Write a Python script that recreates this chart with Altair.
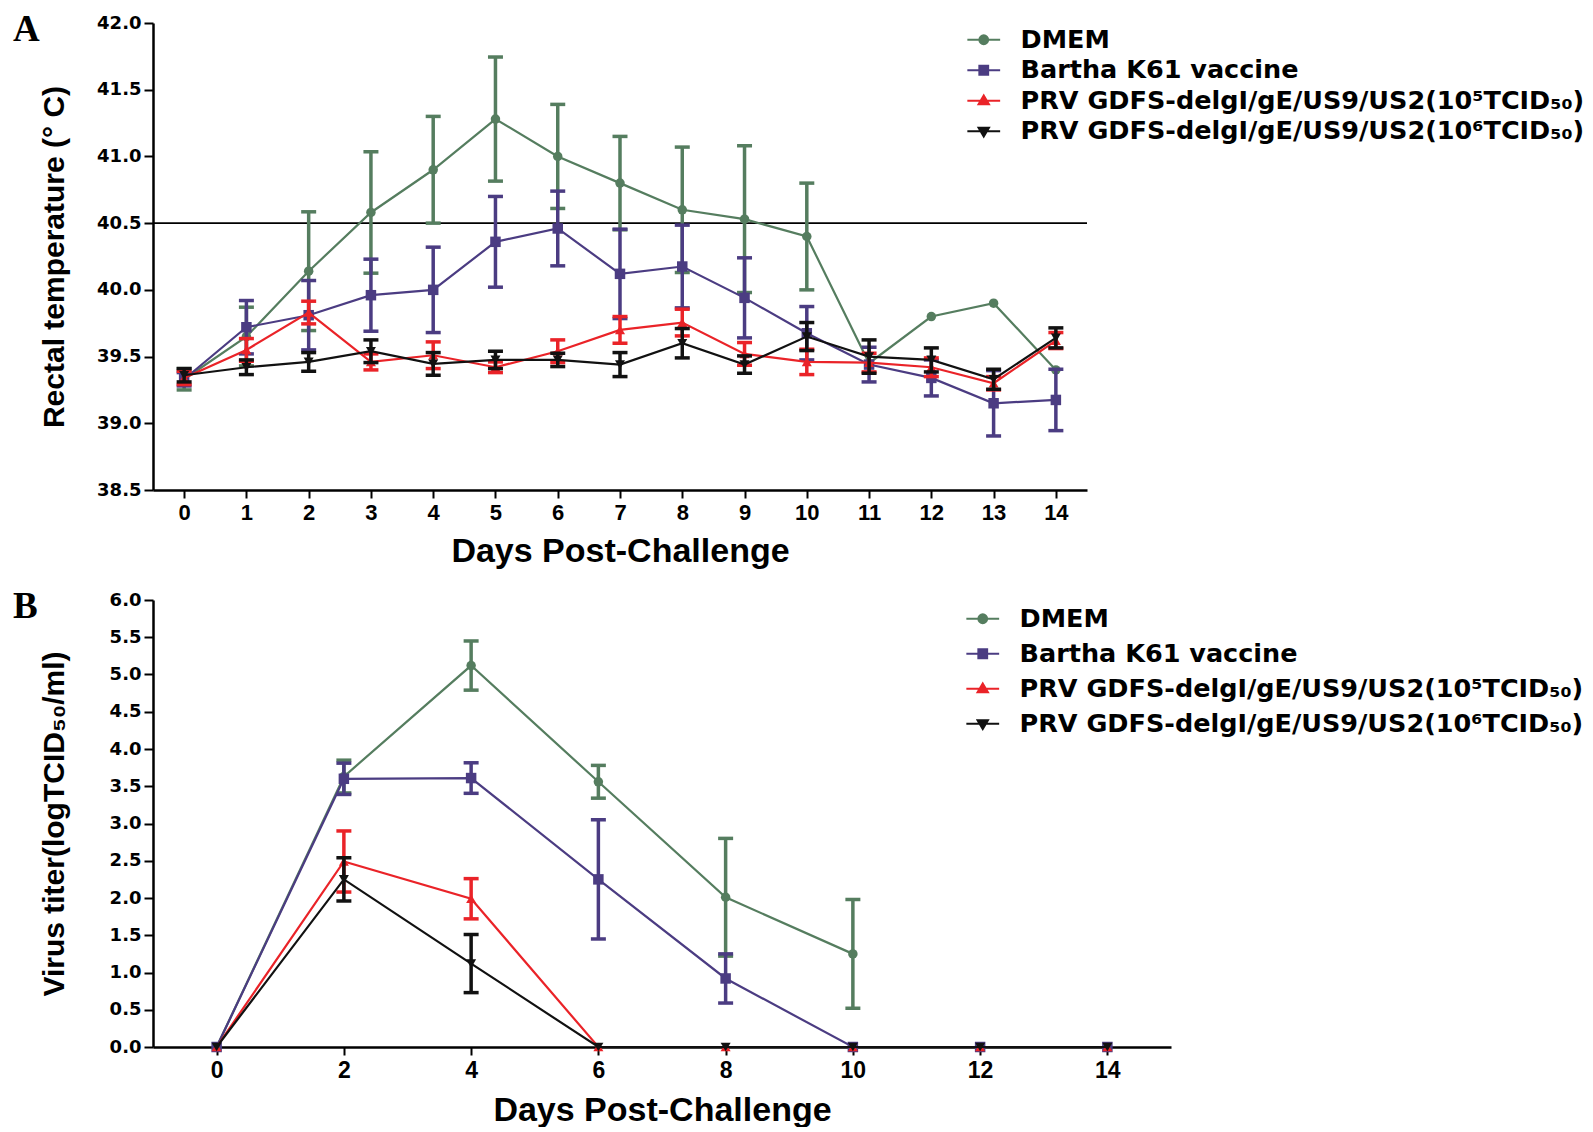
import altair as alt
import pandas as pd

# ---------------- data ----------------
SERIES = ["DMEM", "Bartha K61 vaccine",
          "PRV GDFS-delgI/gE/US9/US2(10⁵TCID₅₀)",
          "PRV GDFS-delgI/gE/US9/US2(10⁶TCID₅₀)"]
COLORS = ["#557d5f", "#4b3c82", "#ea2328", "#111111"]
MARKERS = ["circle", "square", "triangle-up", "triangle-down"]
MARKER_SIZES = [90, 110, 100, 100]
LEGEND_GLYPHS = [
    "M-2.05,0H2.05M-0.55,0A0.55,0.55 0 1,0 0.55,0A0.55,0.55 0 1,0 -0.55,0Z",
    "M-2.05,0H2.05M-0.55,-0.55H0.55V0.55H-0.55Z",
    "M-2.05,0H2.05M0,-0.65L0.65,0.45H-0.65Z",
    "M-2.05,0H2.05M0,0.65L0.65,-0.45H-0.65Z",
]
PANEL_LETTERS = ["A", "B"]

# Panel A: rectal temperature
days_a = list(range(15))
temp_dmem = [39.33, 39.65, 40.14, 40.58, 40.90, 41.28, 41.00, 40.80, 40.60, 40.53, 40.40, 39.45, 39.80, 39.90, 39.40]
temp_dmem_sd = [0.08, 0.22, 0.445, 0.455, 0.40, 0.465, 0.39, 0.35, 0.47, 0.55, 0.40, 0, 0, 0, 0]
temp_bartha = [39.33, 39.72, 39.81, 39.96, 40.00, 40.36, 40.46, 40.12, 40.175, 39.94, 39.675, 39.44, 39.34, 39.15, 39.175]
temp_bartha_sd = [0.05, 0.20, 0.26, 0.27, 0.32, 0.34, 0.28, 0.335, 0.31, 0.30, 0.20, 0.13, 0.135, 0.245, 0.23]
temp_low = [39.34, 39.55, 39.83, 39.46, 39.51, 39.42, 39.54, 39.70, 39.755, 39.52, 39.46, 39.455, 39.42, 39.30, 39.62]
temp_low_sd = [0.05, 0.085, 0.085, 0.06, 0.10, 0.04, 0.085, 0.10, 0.10, 0.085, 0.095, 0.07, 0.07, 0.05, 0.06]
temp_high = [39.36, 39.42, 39.46, 39.54, 39.445, 39.475, 39.475, 39.44, 39.60, 39.44, 39.65, 39.50, 39.475, 39.33, 39.64]
temp_high_sd = [0.05, 0.055, 0.07, 0.085, 0.085, 0.065, 0.05, 0.09, 0.11, 0.065, 0.105, 0.125, 0.09, 0.075, 0.075]
fever_threshold = [40.5]
temp_ticks = [38.5, 39.0, 39.5, 40.0, 40.5, 41.0, 41.5, 42.0]

# Panel B: virus titer
days_b = [0, 2, 4, 6, 8, 10, 12, 14]
titer_dmem = [0, 3.63, 5.12, 3.56, 2.01, 1.25]
titer_dmem_sd = [0, 0.22, 0.33, 0.22, 0.79, 0.73]
titer_bartha = [0, 3.60, 3.61, 2.25, 0.92, 0, 0, 0]
titer_bartha_sd = [0, 0.21, 0.205, 0.80, 0.33, 0, 0, 0]
titer_low = [0, 2.49, 1.99, 0, 0, 0, 0, 0]
titer_low_sd = [0, 0.41, 0.27, 0, 0, 0, 0, 0]
titer_high = [0, 2.25, 1.12, 0, 0, 0, 0, 0]
titer_high_sd = [0, 0.29, 0.39, 0, 0, 0, 0, 0]
titer_ticks = [0.0, 0.5, 1.0, 1.5, 2.0, 2.5, 3.0, 3.5, 4.0, 4.5, 5.0, 5.5, 6.0]


def long_table(days, values, sds):
    rows = []
    for g, vals, ss in zip(SERIES, values, sds):
        for d, v, s in zip(days, vals, ss):
            rows.append(dict(group=g, day=d, value=v, sd=s, lo=v - s, hi=v + s))
    return pd.DataFrame(rows)


df_a = long_table(days_a, [temp_dmem, temp_bartha, temp_low, temp_high],
                  [temp_dmem_sd, temp_bartha_sd, temp_low_sd, temp_high_sd])
df_b = long_table(days_b, [titer_dmem, titer_bartha, titer_low, titer_high],
                  [titer_dmem_sd, titer_bartha_sd, titer_low_sd, titer_high_sd])


def make_axis(values, title, label_font, label_size, tick_size, title_size, title_pad, fmt=None, label_pad=4):
    kw = dict(values=values, title=title, grid=False, domainColor="black", domainWidth=2.5,
              tickColor="black", tickWidth=2, tickSize=tick_size,
              labelFont=label_font, labelFontWeight="bold", labelFontSize=label_size,
              labelColor="black", labelPadding=label_pad, labelOverlap=False, labelFlush=False,
              titleFont="Liberation Sans", titleFontWeight="bold", titleFontSize=title_size,
              titleColor="black", titlePadding=title_pad)
    if fmt:
        kw["format"] = fmt
    return alt.Axis(**kw)


def panel(df, xscale, yscale, xaxis, yaxis, width, height, leg, letter, letter_xy, threshold=None):
    base = alt.Chart(df)
    x = alt.X("day:Q", scale=xscale, axis=xaxis)
    layers = []
    if threshold is not None:
        layers.append(
            alt.Chart(pd.DataFrame({"t": threshold})).mark_rule(color="black", strokeWidth=1.6)
            .encode(y=alt.Y("t:Q", scale=yscale, axis=yaxis))
        )
    for i, g in enumerate(SERIES):
        sub = base.transform_filter(alt.datum.group == g)
        err = sub.transform_filter(alt.datum.sd > 0)
        layers.append(err.mark_rule(color=COLORS[i], strokeWidth=3.5).encode(
            x=x, y=alt.Y("lo:Q", scale=yscale, axis=yaxis), y2="hi:Q"))
        for f in ["lo", "hi"]:
            layers.append(err.mark_tick(orient="horizontal", size=15, thickness=3.5, color=COLORS[i], opacity=1)
                          .encode(x=x, y=alt.Y(f + ":Q", scale=yscale, axis=yaxis)))
        layers.append(sub.mark_line(color=COLORS[i], strokeWidth=2.2).encode(
            x=x, y=alt.Y("value:Q", scale=yscale, axis=yaxis), order="day:Q"))
        layers.append(sub.mark_point(shape=MARKERS[i], filled=True, size=MARKER_SIZES[i],
                                     color=COLORS[i], opacity=1).encode(
            x=x, y=alt.Y("value:Q", scale=yscale, axis=yaxis)))
    legend = alt.Legend(title=None, orient="none", legendX=leg["x"], legendY=leg["y"], padding=0,
                        labelFont="DejaVu Sans", labelFontWeight="bold", labelFontSize=leg["fs"],
                        labelColor="black", labelLimit=0, labelOffset=leg["off"],
                        rowPadding=leg["row"], symbolSize=256, symbolStrokeWidth=2)
    layers.append(
        base.transform_filter("false").mark_point(filled=True, size=256, strokeWidth=2, opacity=1)
        .encode(
            x=x, y=alt.Y("value:Q", scale=yscale, axis=yaxis),
            fill=alt.Fill("group:N", scale=alt.Scale(domain=SERIES, range=COLORS), legend=legend),
            stroke=alt.Stroke("group:N", scale=alt.Scale(domain=SERIES, range=COLORS), legend=legend),
            shape=alt.Shape("group:N", scale=alt.Scale(domain=SERIES, range=LEGEND_GLYPHS), legend=legend),
        )
    )
    layers.append(
        alt.Chart(pd.DataFrame({"letter": [letter]})).mark_text(
            font="Liberation Serif", fontWeight="bold", fontSize=37, align="left",
            baseline="alphabetic", color="black")
        .encode(x=alt.value(letter_xy[0]), y=alt.value(letter_xy[1]), text="letter:N")
    )
    return alt.layer(*layers).properties(width=width, height=height)


xaxis_a = make_axis(days_a, "Days Post-Challenge", "Liberation Sans", 22, 8, 34, 11)
yaxis_a = make_axis(temp_ticks, "Rectal temperature (° C)", "DejaVu Sans", 18, 9, 30, 27, fmt=".1f", label_pad=3)
chart_a = panel(df_a,
                alt.Scale(domain=[-0.5, 14.5], nice=False, zero=False),
                alt.Scale(domain=[38.5, 42.0], nice=False, zero=False),
                xaxis_a, yaxis_a, 934, 467,
                dict(x=818, y=4, fs=25.5, off=24, row=3.5), PANEL_LETTERS[0], (-140, 18),
                threshold=fever_threshold)

xaxis_b = make_axis(days_b, "Days Post-Challenge", "Liberation Sans", 23, 8, 34, 11)
yaxis_b = make_axis(titer_ticks, "Virus titer(logTCID₅₀/ml)", "DejaVu Sans", 18, 9, 30, 40, fmt=".1f", label_pad=3)
chart_b = panel(df_b,
                alt.Scale(domain=[-1, 15], nice=False, zero=False),
                alt.Scale(domain=[0, 6], nice=False, zero=False),
                xaxis_b, yaxis_b, 1018, 447,
                dict(x=817, y=6, fs=25.5, off=24, row=8), PANEL_LETTERS[1], (-140, 18))

chart = (
    alt.vconcat(chart_a, chart_b, spacing=20)
    .resolve_scale(fill="independent", stroke="independent", shape="independent")
    .resolve_legend(fill="independent", stroke="independent", shape="independent")
    .properties(padding={"left": 5, "top": 3, "right": 0, "bottom": 0}, background="white")
    .configure_view(strokeWidth=0)
)

chart.save("out.html", embed_options={"renderer": "svg", "actions": False})
